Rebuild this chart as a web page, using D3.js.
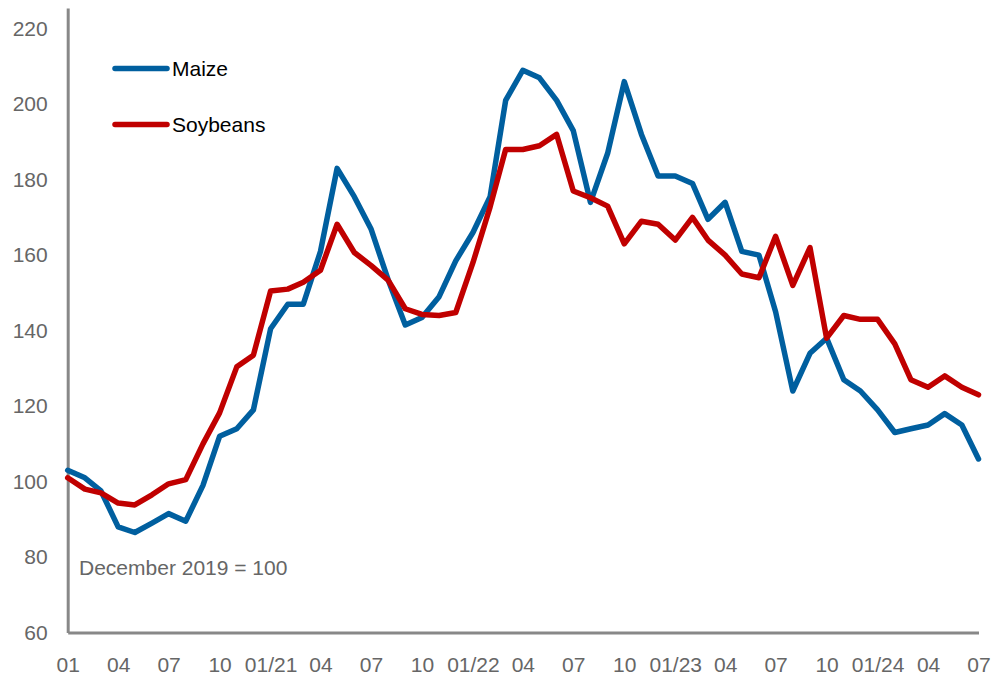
<!DOCTYPE html>
<html>
<head>
<meta charset="utf-8">
<script src="https://cdn.jsdelivr.net/npm/d3@7"></script>
<style>
  body { margin: 0; background: #fff; }
  text { font-family: "Liberation Sans", Arial, sans-serif; }
</style>
</head>
<body>
<svg id="chart" width="992" height="677"></svg>
<script>
// monthly index, December 2019 = 100; Jan 2020 .. Jul 2024
const months = d3.range(55).map((i) => new Date(2020, i, 1));

const maize = [
  103, 101, 97.5, 88, 86.5, 89, 91.5, 89.5, 99, 112, 114, 119,
  140.5, 147, 147, 161, 183, 175.5, 167, 153.5, 141.5, 143.5, 149, 158.5,
  166, 175.5, 201, 209, 207, 201, 193, 174, 187, 206, 192, 181,
  181, 179, 169.5, 174, 161, 160, 145, 124, 134, 138, 127, 124,
  119, 113, 114, 115, 118, 115, 106,
];

const soybeans = [
  101, 98, 97, 94.3, 93.8, 96.5, 99.4, 100.5, 110, 118.2, 130.4, 133.5,
  150.5, 151, 152.8, 156, 168.2, 160.7, 157.3, 153.4, 145.8, 144.3, 144, 144.8,
  158, 172.8, 188, 188, 189, 192, 177, 175.2, 173, 163, 169, 168.2,
  164, 170, 164, 160, 155, 154, 165, 152, 162, 138, 144, 143,
  143, 136.5, 127, 125, 128, 125, 123,
];

const series = [
  { name: "Maize", values: maize, color: "#005f9f" },
  { name: "Soybeans", values: soybeans, color: "#c00000" },
];

const yTicks = [60, 80, 100, 120, 140, 160, 180, 200, 220];
const xTicks = months.filter((d) => d.getMonth() % 3 === 0);
const noteText = "December 2019 = 100";

const svg = d3.select("#chart");

const x = d3.scaleTime()
  .domain(d3.extent(months))
  .range([67.7, 978.5]);

const y = d3.scaleLinear()
  .domain([60, 225.5])
  .range([632.5, 8]);

const fmtMonth = (d) =>
  d.getMonth() === 0 && d.getFullYear() > 2020
    ? d3.timeFormat("%m/%y")(d)
    : d3.timeFormat("%m")(d);

// axes
const yAxis = svg.append("g")
  .attr("transform", `translate(${x.range()[0]},0)`)
  .call(d3.axisLeft(y).tickValues(yTicks).tickSize(0).tickPadding(20));

const xAxis = svg.append("g")
  .attr("transform", `translate(0,${y(60)})`)
  .call(d3.axisBottom(x).tickValues(xTicks).tickSize(0).tickPadding(25).tickFormat(fmtMonth));

[yAxis, xAxis].forEach((g) => {
  g.select(".domain").attr("stroke", "#888").attr("stroke-width", 3);
  g.selectAll("text")
    .attr("fill", "#666")
    .style("font-size", "21px");
});

// lines
const line = d3.line()
  .x((d, i) => x(months[i]))
  .y((d) => y(d));

svg.append("g")
  .selectAll("path")
  .data(series)
  .join("path")
  .attr("fill", "none")
  .attr("stroke", (d) => d.color)
  .attr("stroke-width", 5.5)
  .attr("stroke-linejoin", "round")
  .attr("stroke-linecap", "round")
  .attr("d", (d) => line(d.values));

// legend
const legend = svg.append("g")
  .selectAll("g")
  .data(series)
  .join("g")
  .attr("transform", (d, i) => `translate(115,${68.5 + i * 56})`);

legend.append("line")
  .attr("x1", 0)
  .attr("x2", 52)
  .attr("stroke", (d) => d.color)
  .attr("stroke-width", 5.5)
  .attr("stroke-linecap", "round");

legend.append("text")
  .attr("x", 57)
  .attr("dy", "0.35em")
  .attr("fill", "#000")
  .style("font-size", "21px")
  .text((d) => d.name);

svg.append("text")
  .attr("x", 79)
  .attr("y", 575)
  .attr("fill", "#666")
  .style("font-size", "21px")
  .text(noteText);
</script>
</body>
</html>
